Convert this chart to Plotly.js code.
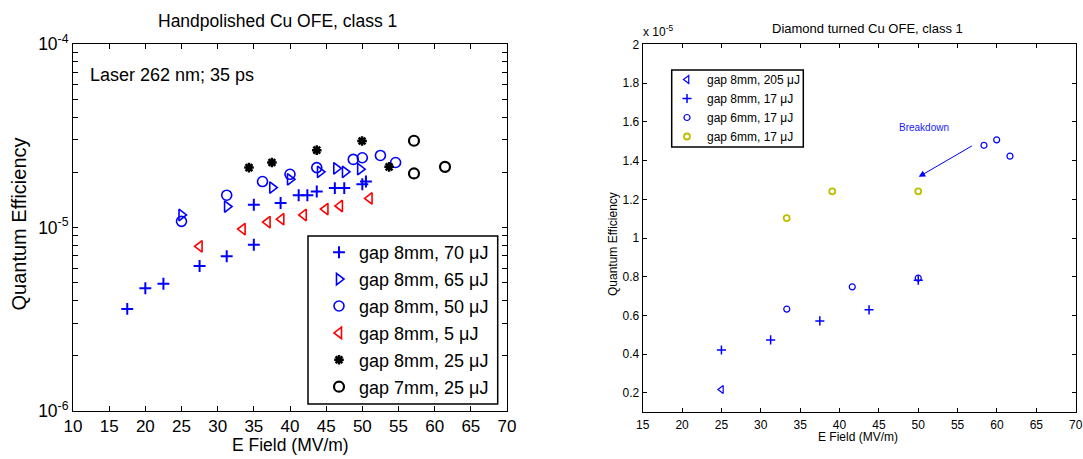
<!DOCTYPE html>
<html>
<head>
<meta charset="utf-8">
<script src="https://cdn.plot.ly/plotly-3.0.1.min.js"></script>
<style>
html,body{margin:0;padding:0;background:#fff;}
#chart{width:1083px;height:459px;}
</style>
</head>
<body>
<div id="chart"></div>
<script>
// ---------- Left panel: Handpolished Cu OFE, class 1 (QE, log scale) ----------
const hp_g8_70_E  = [17.5, 20, 22.5, 27.5, 31.25, 35, 35, 38.7, 41.2, 42.4, 43.7, 46.2, 47.5, 50, 50.5];
const hp_g8_70_QE = [3.6e-6, 4.67e-6, 4.94e-6, 6.17e-6, 6.97e-6, 8.05e-6, 1.33e-5, 1.36e-5, 1.50e-5, 1.50e-5, 1.57e-5, 1.64e-5, 1.64e-5, 1.72e-5, 1.78e-5];

const hp_g8_65_E  = [25, 31.3, 37.55, 40, 44.15, 46.4, 47.6, 49.7];
const hp_g8_65_QE = [1.17e-5, 1.30e-5, 1.65e-5, 1.83e-5, 2.01e-5, 2.10e-5, 2.01e-5, 2.08e-5];

const hp_g8_50_E  = [25, 31.25, 36.2, 40, 43.7, 48.75, 50, 52.5, 54.6];
const hp_g8_50_QE = [1.08e-5, 1.50e-5, 1.78e-5, 1.95e-5, 2.12e-5, 2.35e-5, 2.40e-5, 2.47e-5, 2.26e-5];

const hp_g8_5_E   = [27.5, 33.45, 36.9, 38.8, 41.9, 44.9, 46.9, 51.0];
const hp_g8_5_QE  = [7.9e-6, 9.8e-6, 1.07e-5, 1.11e-5, 1.17e-5, 1.26e-5, 1.31e-5, 1.44e-5];

const hp_g8_25_E  = [34.33, 37.5, 43.7, 49.96, 53.7];
const hp_g8_25_QE = [2.12e-5, 2.26e-5, 2.64e-5, 2.96e-5, 2.14e-5];

const hp_g7_25_E  = [57.14, 57.14, 61.43];
const hp_g7_25_QE = [2.97e-5, 1.97e-5, 2.14e-5];

const leftLabels = ["gap 8mm, 70 μJ", "gap 8mm, 65 μJ", "gap 8mm, 50 μJ", "gap 8mm, 5 μJ", "gap 8mm, 25 μJ", "gap 7mm, 25 μJ"];
const leftXTicks = [10, 15, 20, 25, 30, 35, 40, 45, 50, 55, 60, 65, 70];
const leftYDecades = [1e-6, 1e-5, 1e-4];
const leftYDecadeText = ["10<sup>-6</sup>", "10<sup>-5</sup>", "10<sup>-4</sup>"];

// ---------- Right panel: Diamond turned Cu OFE, class 1 (QE in units of 1e-5) ----------
const dt_g8_205_E  = [25];
const dt_g8_205_QE = [0.218];

const dt_g8_17_E   = [25, 31.25, 37.5, 43.75, 50];
const dt_g8_17_QE  = [0.422, 0.474, 0.572, 0.629, 0.782];

const dt_g6_17_E   = [33.3, 41.62, 50, 58.35, 59.96, 61.65];
const dt_g6_17_QE  = [0.633, 0.748, 0.793, 1.479, 1.507, 1.423];

const dt_g6_17b_E  = [33.29, 39.08, 50];
const dt_g6_17b_QE = [1.103, 1.241, 1.241];

const rightLabels = ["gap 8mm, 205 μJ", "gap 8mm, 17 μJ", "gap 6mm, 17 μJ", "gap 6mm, 17 μJ"];
const rightXTicks = [15, 20, 25, 30, 35, 40, 45, 50, 55, 60, 65, 70];
const rightYTicks = [0.2, 0.4, 0.6, 0.8, 1, 1.2, 1.4, 1.6, 1.8, 2];
const rightYTickText = ["0.2", "0.4", "0.6", "0.8", "1", "1.2", "1.4", "1.6", "1.8", "2"];
// Breakdown arrow: tail and head (E, QE/1e-5)
const arrowTail = [57.0, 1.48];
const arrowHead = [50.06, 1.316];

const FONT = "Liberation Sans, Arial, Helvetica, sans-serif";
const BLUE = "#0000ff", RED = "#ff0000", BLACK = "#000000", YEL = "#bfbf00";

function sc(x, y, name, symbol, color, size, lw, xa, ya, lg, grp) {
  return {x: x, y: y, name: name, type: "scatter", mode: "markers",
    xaxis: xa, yaxis: ya, legend: lg, legendgroup: grp,
    marker: {symbol: symbol, color: color, size: size, line: {color: color, width: lw}},
    hoverinfo: "x+y"};
}

const traces = [
  sc(hp_g8_70_E, hp_g8_70_QE, leftLabels[0], "cross-thin-open", BLUE, 8.5, 2, "x", "y", "legend", "a"),
  sc(hp_g8_65_E, hp_g8_65_QE, leftLabels[1], "triangle-right-open", BLUE, 10, 1.6, "x", "y", "legend", "b"),
  sc(hp_g8_50_E, hp_g8_50_QE, leftLabels[2], "circle-open", BLUE, 10, 1.6, "x", "y", "legend", "c"),
  sc(hp_g8_5_E, hp_g8_5_QE, leftLabels[3], "triangle-left-open", RED, 10, 1.6, "x", "y", "legend", "d"),
  sc(hp_g8_25_E, hp_g8_25_QE, leftLabels[4], "asterisk-open", BLACK, 8, 2.5, "x", "y", "legend", "e"),
  sc(hp_g7_25_E, hp_g7_25_QE, leftLabels[5], "circle-open", BLACK, 10, 2.2, "x", "y", "legend", "f"),
  sc(dt_g8_205_E, dt_g8_205_QE, rightLabels[0], "triangle-left-open", BLUE, 7, 1.2, "x2", "y2", "legend2", "g"),
  sc(dt_g8_17_E, dt_g8_17_QE, rightLabels[1], "cross-thin-open", BLUE, 6.5, 1.5, "x2", "y2", "legend2", "h"),
  sc(dt_g6_17_E, dt_g6_17_QE, rightLabels[2], "circle-open", BLUE, 6, 1.2, "x2", "y2", "legend2", "i"),
  sc(dt_g6_17b_E, dt_g6_17b_QE, rightLabels[3], "circle-open", YEL, 6, 1.8, "x2", "y2", "legend2", "j")
];

const W = 1083, H = 459;
const px = v => v / W, py = v => 1 - v / H;

const axBase = {showline: true, linecolor: "#000", linewidth: 1, mirror: "ticks",
  ticks: "inside", tickcolor: "#000", tickwidth: 1, showgrid: false, zeroline: false,
  fixedrange: true};

const layout = {
  width: W, height: H,
  margin: {l: 0, r: 0, t: 0, b: 0},
  paper_bgcolor: "#fff", plot_bgcolor: "#fff",
  font: {family: FONT, color: "#000"},
  showlegend: true,
  xaxis: Object.assign({}, axBase, {domain: [px(73), px(507)], range: [10, 70],
    tickmode: "array", tickvals: leftXTicks, ticklen: 5, tickfont: {size: 17, family: FONT},
    ticklabelstandoff: 0, anchor: "y"}),
  yaxis: Object.assign({}, axBase, {domain: [py(411), py(44)], type: "log", range: [-6, -4],
    tickmode: "array", tickvals: leftYDecades, ticktext: leftYDecadeText, ticklen: 5,
    minor: {dtick: "D1", ticks: "inside", ticklen: 5, tickcolor: "#000", tickwidth: 1, showgrid: false},
    tickfont: {size: 17.5, family: FONT}, anchor: "x"}),
  xaxis2: Object.assign({}, axBase, {domain: [px(642.7), px(1075.7)], range: [15, 70],
    tickmode: "array", tickvals: rightXTicks, ticklen: 4, tickfont: {size: 12, family: FONT},
    ticklabelstandoff: 1, anchor: "y2"}),
  yaxis2: Object.assign({}, axBase, {domain: [py(412.3), py(44.4)], range: [0.1, 2],
    tickmode: "array", tickvals: rightYTicks, ticktext: rightYTickText, ticklen: 4,
    tickfont: {size: 12, family: FONT}, anchor: "x2"}),
  legend: {x: px(319), y: py(234), xanchor: "left", yanchor: "top",
    bgcolor: "rgba(0,0,0,0)", borderwidth: 0, tracegroupgap: 0.5,
    font: {size: 18, family: FONT}},
  legend2: {x: px(667), y: py(65), xanchor: "left", yanchor: "top",
    bgcolor: "rgba(0,0,0,0)", borderwidth: 0, tracegroupgap: 0,
    font: {size: 12, family: FONT}},
  shapes: [
    {type: "rect", xref: "paper", yref: "paper", x0: px(308), x1: px(497.7), y0: py(404), y1: py(236),
      line: {color: "#000", width: 1.5}, fillcolor: "rgba(0,0,0,0)"},
    {type: "rect", xref: "paper", yref: "paper", x0: px(671.7), x1: px(803.3), y0: py(147), y1: py(70),
      line: {color: "#000", width: 1.5}, fillcolor: "rgba(0,0,0,0)"}
  ],
  annotations: [
    {text: "Handpolished Cu OFE, class 1", xref: "paper", yref: "paper", x: px(277), y: py(21),
      xanchor: "center", yanchor: "middle", showarrow: false, font: {size: 17.5}},
    {text: "Laser 262 nm; 35 ps", xref: "paper", yref: "paper", x: px(88), y: py(75.5),
      xanchor: "left", yanchor: "middle", showarrow: false, font: {size: 18}},
    {text: "E Field (MV/m)", xref: "paper", yref: "paper", x: px(290), y: py(445),
      xanchor: "center", yanchor: "middle", showarrow: false, font: {size: 17.5}},
    {text: "Quantum Efficiency", xref: "paper", yref: "paper", x: px(18.5), y: py(224),
      xanchor: "center", yanchor: "middle", textangle: -90, showarrow: false, font: {size: 20}},
    {text: "Diamond turned Cu OFE, class 1", xref: "paper", yref: "paper", x: px(867), y: py(29),
      xanchor: "center", yanchor: "middle", showarrow: false, font: {size: 13}},
    {text: "x 10<sup>-5</sup>", xref: "paper", yref: "paper", x: px(641), y: py(31),
      xanchor: "left", yanchor: "middle", showarrow: false, font: {size: 12}},
    {text: "E Field (MV/m)", xref: "paper", yref: "paper", x: px(858), y: py(437),
      xanchor: "center", yanchor: "middle", showarrow: false, font: {size: 12}},
    {text: "Quantum Efficiency", xref: "paper", yref: "paper", x: px(613), y: py(244),
      xanchor: "center", yanchor: "middle", textangle: -90, showarrow: false, font: {size: 12}},
    {text: "Breakdown", xref: "paper", yref: "paper", x: px(924), y: py(128),
      xanchor: "center", yanchor: "middle", showarrow: false, font: {size: 10, color: "#2020ff"}},
    {text: "", xref: "x2", yref: "y2", x: arrowHead[0], y: arrowHead[1],
      axref: "x2", ayref: "y2", ax: arrowTail[0], ay: arrowTail[1],
      showarrow: true, arrowhead: 2, arrowsize: 1.3, arrowwidth: 1, arrowcolor: BLUE}
  ]
};

Plotly.newPlot("chart", traces, layout, {displayModeBar: false, staticPlot: true});
</script>
</body>
</html>
